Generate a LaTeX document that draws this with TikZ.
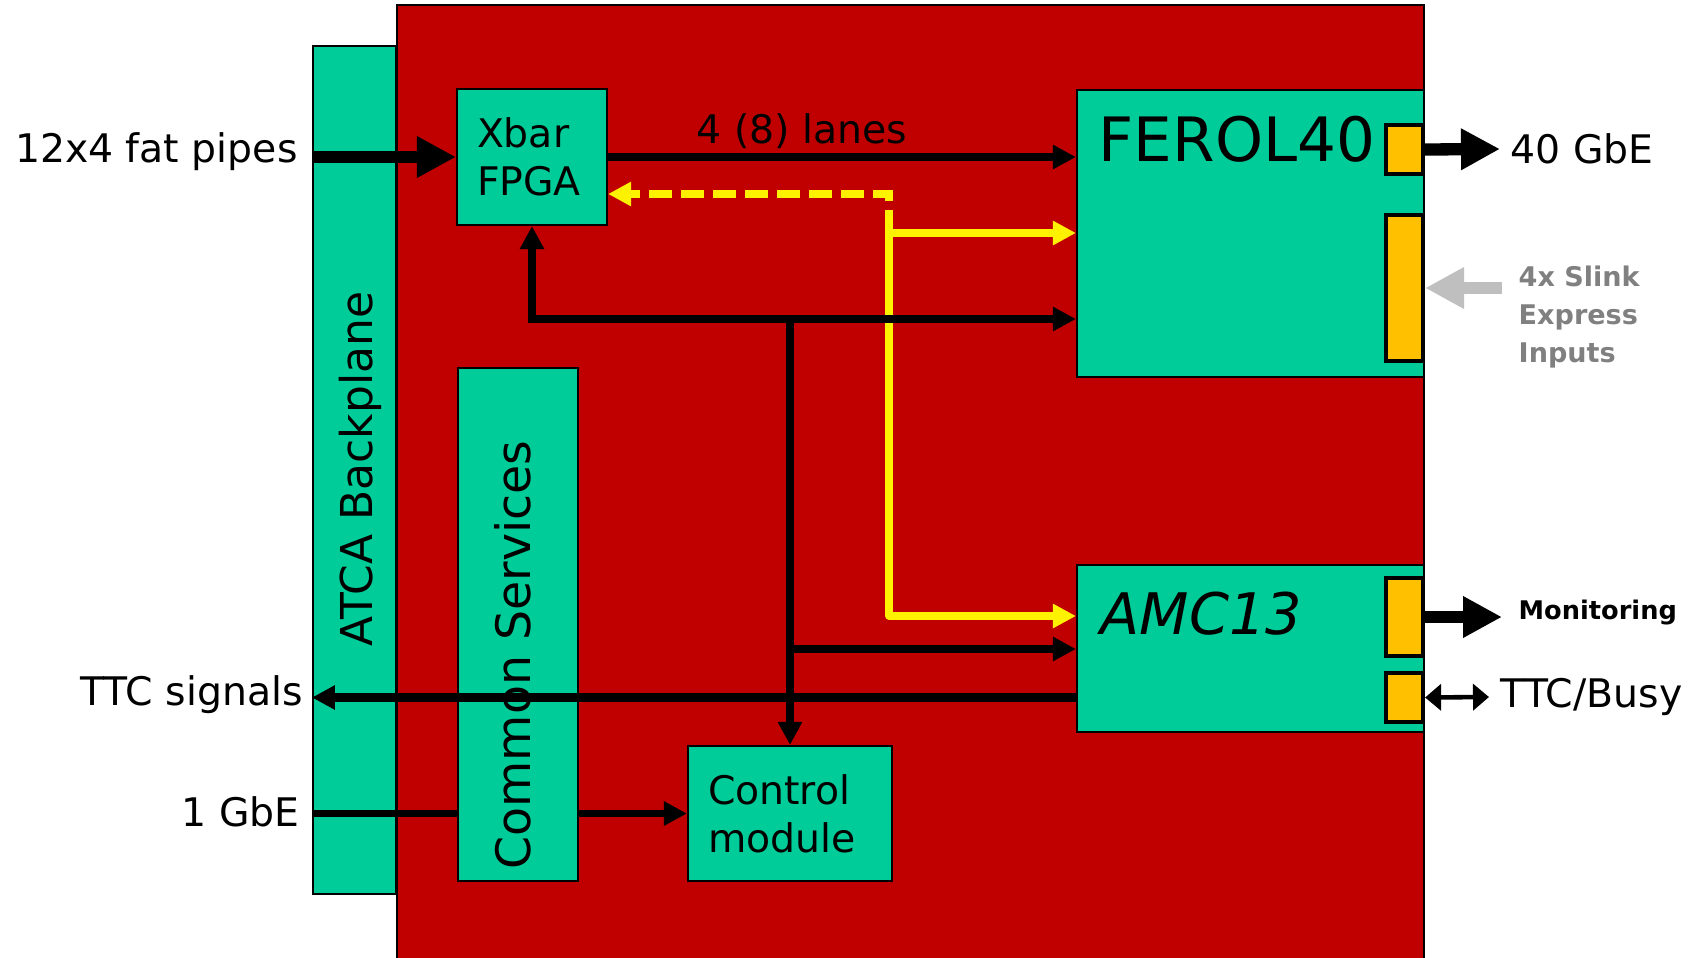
\documentclass[tikz,border=0pt]{standalone}
\usepackage{fontspec}
\setmainfont{DejaVu Sans}
\usetikzlibrary{arrows.meta,positioning}
\definecolor{boardred}{RGB}{192,0,0}
\definecolor{cardgreen}{RGB}{0,204,153}
\definecolor{portamber}{RGB}{255,192,0}
\definecolor{slinkgrey}{RGB}{191,191,191}
\definecolor{slinktext}{RGB}{128,128,128}
\newcommand{\fsz}[2]{\fontsize{#1}{#2}\selectfont}

\begin{document}
\begin{tikzpicture}[>={Triangle[length=2.3mm,width=2.3mm]},font=\fsz{11.2}{13.7},
  card/.style={draw=black,line width=0.6pt,fill=cardgreen,inner sep=0pt},
  port/.style={draw=black,line width=1.2pt,fill=portamber,minimum width=0.37cm,inner sep=0pt},
  wire/.style={line width=2pt},
  fatwire/.style={line width=3.5pt,-{Triangle[length=3.9mm,width=3.9mm]}},
  ydash/.style={yellow,line width=2.3pt,dash pattern=on 6.5pt off 2.6pt},
  ysolid/.style={yellow,line width=2.1pt,line join=round}]
\useasboundingbox (0,0) rectangle (17.05,9.57);
% board and cards
\filldraw[fill=boardred,line width=0.6pt] (3.97,-0.2) rectangle (14.24,9.52);
\node[card,minimum width=0.83cm,minimum height=8.48cm] (backplane) at (3.545,4.87) {};
\node[card,minimum width=1.5cm,minimum height=1.36cm,text width=1.1cm,align=left] (xbar) at (5.32,8.0) {Xbar\\FPGA};
\node[card,minimum width=1.2cm,minimum height=5.13cm] (cs) at (5.18,3.325) {};
\node[card,minimum width=2.04cm,minimum height=1.35cm,text width=1.64cm,align=left] (ctrl) at (7.9,1.435) {Control\\module};
\node[card,minimum width=3.47cm,minimum height=2.87cm] (ferol) at (12.505,7.235) {};
\node[card,minimum width=3.47cm,minimum height=1.67cm] (amc) at (12.505,3.085) {};
\node[rotate=90,font=\fsz{12.5}{15}] (atcatext) at (3.6,4.88) {ATCA Backplane};
\node[rotate=90,font=\fsz{13.5}{16}] (cstext) at (5.13,3.02) {Common Services};
\node[anchor=west,inner sep=0pt,font=\fsz{17.4}{20}] (ferolname) at (10.98,8.18) {FEROL40};
\node[anchor=west,inner sep=0pt,font=\fsz{16.3}{19}\itshape] (amcname) at (11.0,3.43) {AMC13};
% ports
\node[port,minimum height=0.49cm] (p1) at (14.045,8.075) {};
\node[port,minimum height=1.46cm] (p2) at (14.045,6.69) {};
\node[port,minimum height=0.78cm] (p3) at (14.045,3.40) {};
\node[port,minimum height=0.49cm] (p4) at (14.045,2.595) {};
% outside labels
\node[anchor=east] (lpipes) at (3.10,8.05) {12x4 fat pipes};
\node[anchor=east] (lttcsig) at (3.15,2.62) {TTC signals};
\node[anchor=east] (lgbe1) at (3.12,1.45) {1 GbE};
\node (llanes) at (8.02,8.26) {4 (8) lanes};
\node[anchor=west,inner xsep=1mm] (lgbe40) at (15.0,8.08) {40 GbE};
\node[anchor=west,inner xsep=1.6mm,align=left,text=slinktext,font=\fsz{7.7}{10.9}\bfseries] (lslink) at (15.02,6.40) {4x Slink\\Express\\Inputs};
\node[anchor=west,inner xsep=1.6mm,font=\fsz{7.3}{9}\bfseries] (lmon) at (15.02,3.44) {Monitoring};
\node[anchor=west,inner xsep=1.1mm] (lttcbusy) at (14.89,2.60) {TTC/Busy};
% links
\coordinate (ya) at (8.89,7.24);
\coordinate (yb) at (8.89,7.63);
\coordinate (yc) at (8.89,3.41);
\coordinate (jn) at (7.9,6.38);
\coordinate (jb) at (7.9,3.08);
\draw[fatwire] (xbar -| backplane.west) -- (xbar.west);
\draw[wire,->] (xbar.east) -- (xbar.east -| ferol.west);
\draw[ydash,->] (ya) -- (yb) -- (yb -| xbar.east);
\draw[ysolid,->] (ya) -- (ya -| ferol.west);
\draw[ysolid,->] (ya) -- (yc) -- (yc -| amc.west);
\draw[wire,->] (jn) -- (jn -| ferol.west);
\draw[wire,->] (jn) -| (xbar.south);
\draw[wire,->] (jn) -- (ctrl.north);
\draw[wire,->] (jb) -- (jb -| amc.west);
\draw[line width=2.3pt,->] (p4 -| amc.west) -- (p4 -| backplane.west);
\draw[line width=2.2pt] (ctrl -| backplane.west) -- (ctrl -| cs.west);
\draw[line width=2.2pt,->] (ctrl -| cs.east) -- (ctrl.west);
\draw[fatwire] (p1.east) -- (lgbe40.west);
\draw[fatwire,slinkgrey] (p2 -| lslink.west) -- (p2.east);
\draw[fatwire] (p3.east) -- (p3 -| lmon.west);
\draw[line width=1.3pt,{Triangle[length=1.6mm,width=2.6mm]}-{Triangle[length=1.6mm,width=2.6mm]}] (p4.east) -- (lttcbusy.west);
\end{tikzpicture}
\end{document}
